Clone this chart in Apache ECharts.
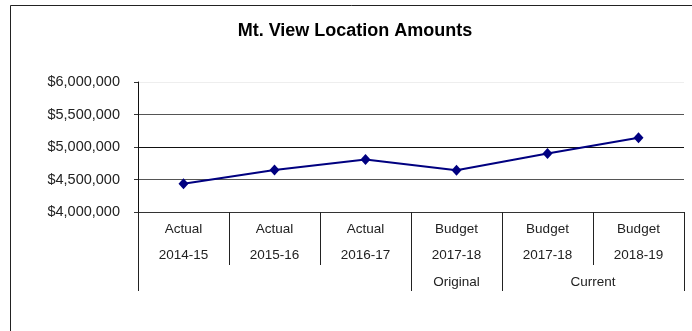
<!DOCTYPE html>
<html>
<head>
<meta charset="utf-8">
<script src="https://cdn.jsdelivr.net/npm/echarts@6/dist/echarts.min.js"></script>
<style>
  html, body { margin: 0; padding: 0; background: #fff; overflow: hidden; }
  #chart { width: 692px; height: 331px; }
</style>
</head>
<body>
<div id="chart"></div>
<script>
// Location amounts by fiscal year
const categoryKind = ['Actual', 'Actual', 'Actual', 'Budget', 'Budget', 'Budget'];
const categoryYear = ['2014-15', '2015-16', '2016-17', '2017-18', '2017-18', '2018-19'];
const amounts = [4433000, 4647000, 4807000, 4643000, 4899000, 5144000];

// Budget groupings shown in the third label row (category index ranges)
const groupNames = ['Original', 'Current'];
const groupStart = [3, 4];
const groupEnd = [4, 6];

const yTicks = [4000000, 4500000, 5000000, 5500000, 6000000];

const FONT = 'Liberation Sans, Arial, sans-serif';
const TEXT = '#222';

function money(v) {
  return '$' + String(Math.round(v)).replace(/\B(?=(\d{3})+(?!\d))/g, ',');
}

const groupCenters = groupNames.map((_, i) => (groupStart[i] + groupEnd[i]) / 2);
const groupEdges = [0].concat(groupStart.filter(s => s > 0), groupEnd);
const uniqueEdges = Array.from(new Set(groupEdges)).sort((a, b) => a - b);

const chart = echarts.init(document.getElementById('chart'), null, { renderer: 'canvas' });

chart.setOption({
  animation: false,
  backgroundColor: '#fff',
  title: {
    text: 'Mt. View Location Amounts',
    left: 355,
    top: 22,
    padding: 0,
    textAlign: 'center',
    textStyle: { fontFamily: FONT, fontSize: 18, fontWeight: 'bold', color: '#000' }
  },
  graphic: [{
    // chart frame: only its top and left edges fall inside the view
    type: 'polyline',
    shape: { points: [[10.5, 340], [10.5, 5.5], [700, 5.5]] },
    style: { fill: null, stroke: '#222', lineWidth: 1 },
    silent: true
  }],
  grid: { left: 138, top: 82, width: 546, height: 130, containLabel: false },
  xAxis: [{
    type: 'category',
    data: categoryYear,
    boundaryGap: true,
    position: 'bottom',
    axisLine: { show: true, lineStyle: { color: '#333', width: 1 } },
    axisTick: { show: true, length: 53, lineStyle: { color: '#222', width: 1 } },
    axisLabel: {
      interval: 0,
      margin: 4,
      fontFamily: FONT,
      fontSize: 13.5,
      color: TEXT,
      lineHeight: 26,
      align: 'center',
      formatter: (v, i) => categoryKind[i] + '\n' + categoryYear[i]
    },
    splitLine: { show: false }
  }, {
    type: 'value',
    min: 0,
    max: categoryYear.length,
    position: 'bottom',
    offset: 0,
    axisLine: { show: false },
    axisTick: {
      show: true,
      length: 79,
      customValues: uniqueEdges,
      lineStyle: { color: '#222', width: 1 }
    },
    axisLabel: {
      show: true,
      margin: 63,
      customValues: groupCenters,
      fontFamily: FONT,
      fontSize: 13.5,
      color: TEXT,
      lineHeight: 14,
      formatter: (v) => {
        const i = groupCenters.indexOf(v);
        return i >= 0 ? groupNames[i] : '';
      }
    },
    splitLine: { show: false }
  }],
  yAxis: {
    type: 'value',
    min: yTicks[0],
    max: yTicks[yTicks.length - 1],
    interval: yTicks[1] - yTicks[0],
    axisLine: { show: true, lineStyle: { color: '#111', width: 1 } },
    axisTick: { show: true, inside: false, length: 4, lineStyle: { color: '#333' } },
    axisLabel: {
      margin: 18,
      fontFamily: FONT,
      fontSize: 14.5,
      color: TEXT,
      formatter: money
    },
    splitLine: {
      show: true,
      lineStyle: { color: ['#333', '#555', '#111', '#555', '#eee'], width: 1 }
    }
  },
  series: [{
    type: 'line',
    xAxisIndex: 0,
    data: amounts,
    symbol: 'diamond',
    symbolSize: [10, 11],
    lineStyle: { color: '#000080', width: 2 },
    itemStyle: { color: '#000080' },
    z: 5
  }]
});
</script>
</body>
</html>
